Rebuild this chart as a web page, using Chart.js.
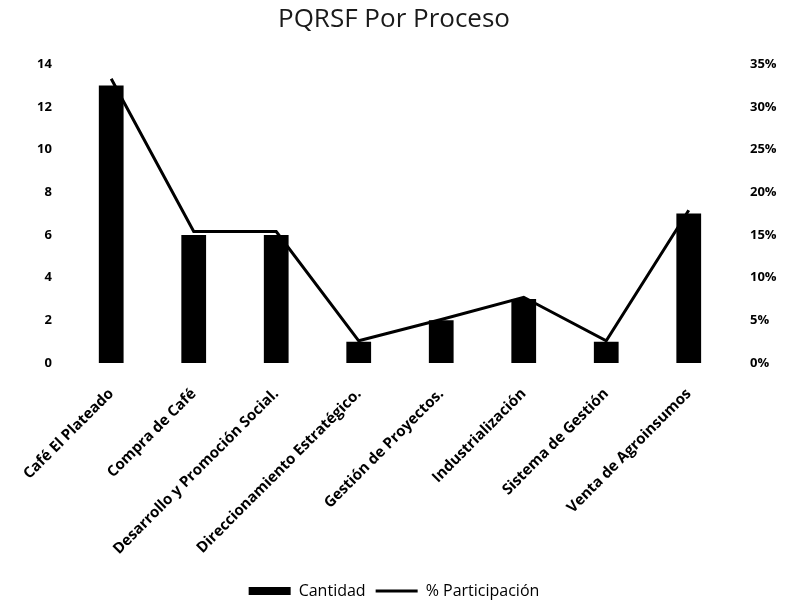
<!DOCTYPE html>
<html>
<head>
<meta charset="utf-8">
<script src="https://cdn.jsdelivr.net/npm/chart.js@4/dist/chart.umd.min.js"></script>
<style>
  html, body { margin: 0; padding: 0; background: #fff; }
  #wrap { width: 788px; height: 610px; }
</style>
</head>
<body>
<div id="wrap"><canvas id="c" width="788" height="610"></canvas></div>
<script>
const categories = [
  "Café El Plateado",
  "Compra de Café",
  "Desarrollo y Promoción Social.",
  "Direccionamiento Estratégico.",
  "Gestión de Proyectos.",
  "Industrialización",
  "Sistema de Gestión",
  "Venta de Agroinsumos"
];
const cantidad = [13, 6, 6, 1, 2, 3, 1, 7];
const participacion = [33.3, 15.4, 15.4, 2.6, 5.1, 7.7, 2.6, 17.9];
const leftTicks = [0, 2, 4, 6, 8, 10, 12, 14];
const rightTicks = [0, 5, 10, 15, 20, 25, 30, 35];

const FONT = "'Open Sans', 'DejaVu Sans', sans-serif";

new Chart(document.getElementById('c'), {
  data: {
    labels: categories,
    datasets: [
      {
        type: 'line',
        label: '% Participación',
        data: participacion,
        yAxisID: 'y1',
        borderColor: '#000',
        backgroundColor: '#000',
        borderWidth: 3,
        pointRadius: 0,
        pointStyle: 'line',
        tension: 0,
        order: 0
      },
      {
        type: 'bar',
        label: 'Cantidad',
        data: cantidad,
        yAxisID: 'y',
        backgroundColor: '#000',
        borderWidth: 0,
        pointStyle: 'rect',
        barPercentage: 0.6,
        categoryPercentage: 0.5,
        order: 1
      }
    ]
  },
  options: {
    responsive: false,
    animation: false,
    layout: { padding: { top: 0, bottom: 1, left: 0, right: 0 } },
    plugins: {
      title: {
        display: true,
        text: 'PQRSF Por Proceso',
        color: '#1a1a1a',
        font: { family: FONT, size: 26, weight: 'normal' },
        padding: { top: 4, bottom: 29 }
      },
      legend: {
        position: 'bottom',
        reverse: true,
        labels: {
          usePointStyle: true,
          pointStyleWidth: 42,
          boxHeight: 8,
          color: '#000',
          font: { family: FONT, size: 16 },
          padding: 10
        }
      },
      tooltip: { enabled: false }
    },
    scales: {
      x: {
        grid: { display: false, drawTicks: false },
        border: { display: false },
        ticks: {
          autoSkip: false,
          minRotation: 45,
          maxRotation: 45,
          color: '#000',
          padding: 22,
          font: { family: FONT, size: 15, weight: 'bold' }
        },
        afterFit(scale) { scale.height = 210; }
      },
      y: {
        position: 'left',
        min: 0,
        max: 14,
        afterBuildTicks(scale) { scale.ticks = leftTicks.map(v => ({ value: v })); },
        grid: { display: false, drawTicks: false },
        border: { display: false },
        ticks: {
          color: '#000',
          padding: 18,
          font: { family: FONT, size: 13, weight: 'bold' }
        },
        afterFit(scale) { scale.width = 66; }
      },
      y1: {
        position: 'right',
        min: 0,
        max: 35,
        afterBuildTicks(scale) { scale.ticks = rightTicks.map(v => ({ value: v })); },
        grid: { display: false, drawTicks: false },
        border: { display: false },
        ticks: {
          color: '#000',
          padding: 20,
          font: { family: FONT, size: 13, weight: 'bold' },
          callback: v => v + '%'
        },
        afterFit(scale) { scale.width = 58; }
      }
    }
  }
});
</script>
</body>
</html>
